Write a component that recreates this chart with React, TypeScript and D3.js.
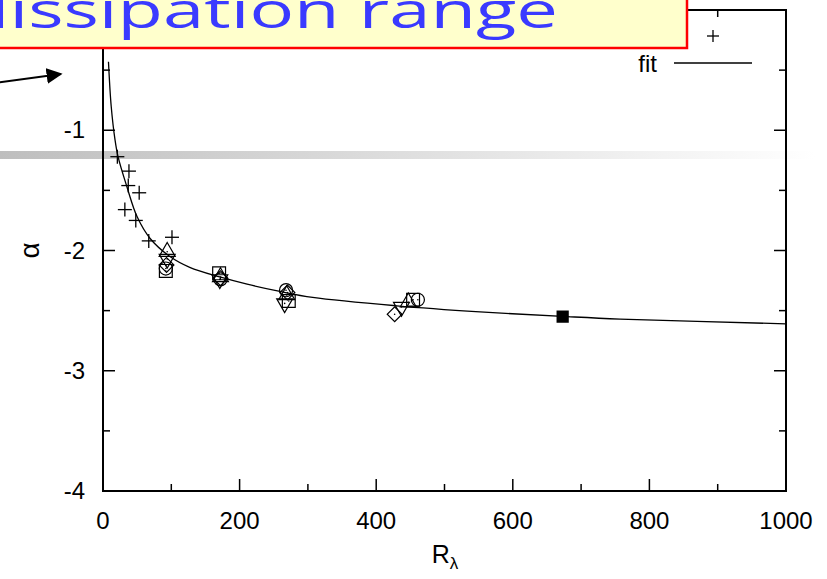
import React, { useLayoutEffect, useRef, useState } from "react";
import * as d3 from "d3";

// fit curve
const fitR = [8, 12, 17.6, 22, 35, 50, 69, 98, 127, 171, 211, 259, 307, 430, 552, 680, 757, 1000];
const fitA = [-0.43, -0.8, -1.08, -1.22, -1.47, -1.72, -1.9, -2.05, -2.14, -2.22, -2.28, -2.34, -2.39, -2.46, -2.51, -2.55, -2.57, -2.61];

// "+" series
const plusR = [21, 38, 37, 53, 32, 48, 67, 101];
const plusA = [-1.22, -1.34, -1.46, -1.52, -1.66, -1.75, -1.92, -1.89];

// open symbol series
const circleR = [92, 172, 268, 461];
const circleA = [-2.15, -2.24, -2.33, -2.41];
const squareR = [92, 170, 272, 454];
const squareA = [-2.17, -2.19, -2.42, -2.41];
const triUpR = [94, 172, 269, 447];
const triUpA = [-2.01, -2.22, -2.37, -2.43];
const triDownR = [94, 171, 266, 437];
const triDownA = [-2.07, -2.24, -2.44, -2.47];
const diamondR = [93, 172, 270, 427];
const diamondA = [-2.12, -2.23, -2.35, -2.53];

// filled square
const filledR = [673];
const filledA = [-2.55];

const xTicks = [0, 200, 400, 600, 800, 1000];
const yTicks = [-4, -3, -2, -1];

const W = 827;
const H = 579;

const x = d3.scaleLinear().domain([0, 1000]).range([103, 786]);
const y = d3.scaleLinear().domain([-4, 0]).range([491, 10]);

const zip = (rs: number[], as: number[]) => rs.map((r, i) => [r, as[i]] as [number, number]);

const sym = (type: d3.SymbolType, size: number) => d3.symbol().type(type).size(size)() as string;

const App = () => {
  const titleRef = useRef<SVGTextElement>(null);
  const [titleScale, setTitleScale] = useState(1);

  // stretch the title so it runs from off the left edge to about x=558
  useLayoutEffect(() => {
    if (!titleRef.current) return;
    const w = titleRef.current.getComputedTextLength();
    if (w > 0) setTitleScale(594 / w);
  }, []);

  const [x0, x1] = x.range();
  const [y0, y1] = y.range();
  const fitLine = d3
    .line<[number, number]>()
    .x((d) => x(d[0]))
    .y((d) => y(d[1]))
    .curve(d3.curveCatmullRom)(zip(fitR, fitA)) as string;

  const xMinor = d3.range(0, 1001, 100);
  const yMinor = d3.range(-4, 0.01, 0.5);
  const font = "Liberation Sans, Arial, sans-serif";

  const openSeries = [
    { pts: zip(circleR, circleA), path: sym(d3.symbolCircle, 135), rot: 0 },
    { pts: zip(squareR, squareA), path: sym(d3.symbolSquare, 165), rot: 0 },
    { pts: zip(triUpR, triUpA), path: sym(d3.symbolTriangle, 110), rot: 0 },
    { pts: zip(triDownR, triDownA), path: sym(d3.symbolTriangle, 110), rot: 180 },
    { pts: zip(diamondR, diamondA), path: sym(d3.symbolSquare, 110), rot: 45 },
  ];

  return (
    <svg width={W} height={H} style={{ position: "absolute", left: 0, top: 0, background: "#fff" }}>
      <defs>
        <linearGradient id="bar" x1="0" x2="1" y1="0" y2="0">
          <stop offset="0" stopColor="#bebebe" />
          <stop offset="1" stopColor="#ffffff" />
        </linearGradient>
        <clipPath id="plot">
          <rect x={x0} y={y1} width={x1 - x0} height={y0 - y1} />
        </clipPath>
        <marker id="arrow" viewBox="0 0 10 10" refX="9" refY="5" markerWidth="8" markerHeight="8" orient="auto">
          <path d="M0,0 L10,5 L0,10 z" fill="#000" />
        </marker>
      </defs>

      {/* gray bar behind the plot */}
      <rect x={0} y={151} width={815} height={8} fill="url(#bar)" />

      {/* frame */}
      <rect x={x0} y={y1} width={x1 - x0} height={y0 - y1} fill="none" stroke="#000" strokeWidth={2} />

      {/* ticks, pointing inward on all four sides */}
      {xMinor.map((t) => {
        const len = t % 200 === 0 ? 12 : 7;
        return (
          <g key={"xt" + t}>
            <line x1={x(t)} x2={x(t)} y1={y0} y2={y0 - len} stroke="#000" strokeWidth={1.5} />
            <line x1={x(t)} x2={x(t)} y1={y1} y2={y1 + len} stroke="#000" strokeWidth={1.5} />
          </g>
        );
      })}
      {yMinor.map((t) => {
        const len = Math.abs(t - Math.round(t)) < 1e-6 ? 12 : 7;
        return (
          <g key={"yt" + t}>
            <line x1={x0} x2={x0 + len} y1={y(t)} y2={y(t)} stroke="#000" strokeWidth={1.5} />
            <line x1={x1} x2={x1 - len} y1={y(t)} y2={y(t)} stroke="#000" strokeWidth={1.5} />
          </g>
        );
      })}
      {xTicks.map((t) => (
        <text key={"xl" + t} x={x(t)} y={y0 + 38} textAnchor="middle" fontFamily={font} fontSize={24}>
          {t}
        </text>
      ))}
      {yTicks.map((t) => (
        <text key={"yl" + t} x={x0 - 18} y={y(t) + 8} textAnchor="end" fontFamily={font} fontSize={24}>
          {t}
        </text>
      ))}

      {/* axis titles */}
      <text x={445} y={563} textAnchor="middle" fontFamily={font} fontSize={25}>
        R<tspan fontSize={17} dy={6}>λ</tspan>
      </text>
      <text transform={`translate(39,${y(-2)}) rotate(-90)`} textAnchor="middle" fontFamily={font} fontSize={28}>
        α
      </text>

      {/* data */}
      <g clipPath="url(#plot)">
        <path d={fitLine} fill="none" stroke="#000" strokeWidth={1.3} />
        {openSeries.map((s, si) =>
          s.pts.map((p, i) => (
            <g key={`s${si}-${i}`} transform={`translate(${x(p[0])},${y(p[1])}) rotate(${s.rot})`}>
              <path d={s.path} fill="none" stroke="#000" strokeWidth={1.2} />
              <circle r={0.8} fill="#000" />
            </g>
          ))
        )}
        {zip(plusR, plusA).map((p, i) => (
          <g key={"p" + i} transform={`translate(${x(p[0])},${y(p[1])})`} stroke="#000" strokeWidth={1.3}>
            <line x1={-7} x2={7} y1={0} y2={0} />
            <line x1={0} x2={0} y1={-7} y2={7} />
          </g>
        ))}
        {zip(filledR, filledA).map((p, i) => (
          <path key={"f" + i} transform={`translate(${x(p[0])},${y(p[1])})`} d={sym(d3.symbolSquare, 150)} fill="#000" />
        ))}
      </g>

      {/* legend */}
      <g transform="translate(713,36)" stroke="#000" strokeWidth={1.3}>
        <line x1={-6} x2={6} y1={0} y2={0} />
        <line x1={0} x2={0} y1={-6} y2={6} />
      </g>
      <text x={657} y={72} textAnchor="end" fontFamily={font} fontSize={24}>
        fit
      </text>
      <line x1={674} x2={752} y1={63} y2={63} stroke="#000" strokeWidth={1.3} />

      {/* title box overlay */}
      <rect x={-5} y={-5} width={692} height={53} fill="#ffffcc" stroke="#ff0000" strokeWidth={2.5} />
      <text
        ref={titleRef}
        transform={`translate(-36,28) scale(${titleScale},1)`}
        fontFamily="Open Sans, DejaVu Sans, sans-serif"
        fontSize={50}
        fill="#3a3aff"
      >
        dissipation range
      </text>

      {/* arrow */}
      <line x1={-5} y1={83} x2={61} y2={74} stroke="#000" strokeWidth={2} markerEnd="url(#arrow)" />
    </svg>
  );
};

export default App;
